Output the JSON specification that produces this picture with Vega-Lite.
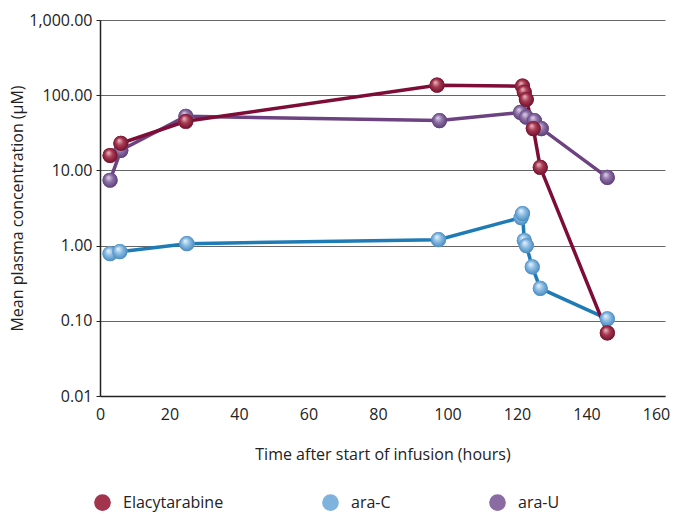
{
  "$schema": "https://vega.github.io/schema/vega-lite/v6.json",
  "width": 565,
  "height": 376,
  "autosize": "none",
  "padding": {"left": 100, "top": 20, "right": 20, "bottom": 119},
  "background": "white",
  "config": {
    "view": {"stroke": null},
    "font": "Open Sans",
    "axis": {"labelFont": "Open Sans", "titleFont": "Open Sans", "labelColor": "#222", "titleColor": "#222", "labelFontSize": 16, "titleFontSize": 16, "titleFontWeight": "normal"}
  },
  "data": {"values": [
    {"series": "Elacytarabine", "t": 2.9, "c": 15.8},
    {"series": "Elacytarabine", "t": 6.0, "c": 22.9},
    {"series": "Elacytarabine", "t": 24.7, "c": 45},
    {"series": "Elacytarabine", "t": 97.0, "c": 136},
    {"series": "Elacytarabine", "t": 121.6, "c": 132},
    {"series": "Elacytarabine", "t": 122.1, "c": 110},
    {"series": "Elacytarabine", "t": 122.7, "c": 88},
    {"series": "Elacytarabine", "t": 124.7, "c": 36},
    {"series": "Elacytarabine", "t": 126.7, "c": 11},
    {"series": "Elacytarabine", "t": 146.0, "c": 0.069},
    {"series": "ara-C", "t": 2.9, "c": 0.78},
    {"series": "ara-C", "t": 5.7, "c": 0.83},
    {"series": "ara-C", "t": 25.0, "c": 1.06},
    {"series": "ara-C", "t": 97.4, "c": 1.2},
    {"series": "ara-C", "t": 121.2, "c": 2.36},
    {"series": "ara-C", "t": 121.6, "c": 2.67},
    {"series": "ara-C", "t": 122.1, "c": 1.17},
    {"series": "ara-C", "t": 122.7, "c": 1.0},
    {"series": "ara-C", "t": 124.4, "c": 0.52},
    {"series": "ara-C", "t": 126.7, "c": 0.27},
    {"series": "ara-C", "t": 146.0, "c": 0.106},
    {"series": "ara-U", "t": 2.9, "c": 7.4},
    {"series": "ara-U", "t": 6.0, "c": 18.5},
    {"series": "ara-U", "t": 24.7, "c": 52.5},
    {"series": "ara-U", "t": 97.7, "c": 46},
    {"series": "ara-U", "t": 121.0, "c": 59},
    {"series": "ara-U", "t": 122.7, "c": 51},
    {"series": "ara-U", "t": 125.0, "c": 46},
    {"series": "ara-U", "t": 127.0, "c": 36},
    {"series": "ara-U", "t": 146.0, "c": 8.07}
  ]},
  "encoding": {
    "x": {"field": "t", "type": "quantitative", "scale": {"domain": [0, 162.6], "nice": false},
      "axis": {"values": [0, 20, 40, 60, 80, 100, 120, 140, 160], "grid": false, "ticks": false, "domainColor": "#222", "domainWidth": 1.5, "labelPadding": 10, "title": "Time after start of infusion (hours)", "titlePadding": 24, "labelFlush": false}},
    "y": {"field": "c", "type": "quantitative", "scale": {"type": "log", "domain": [0.01, 1000], "nice": false},
      "axis": {"values": [0.01, 0.1, 1, 10, 100, 1000], "format": ",.2f", "grid": true, "gridColor": "#666", "gridWidth": 1, "ticks": true, "tickSize": 4, "tickColor": "#222", "domainColor": "#222", "domainWidth": 1.5, "labelPadding": 4, "title": "Mean plasma concentration (µM)", "titlePadding": 3}}
  },
  "layer": [
    {
      "transform": [{"filter": "datum.series === 'ara-C'"}],
      "mark": {"type": "line", "strokeWidth": 3.5, "color": "#1f7bb6"},
      "encoding": {"order": {"field": "t", "type": "quantitative"}}
    },
    {
      "transform": [{"filter": "datum.series === 'ara-U'"}],
      "mark": {"type": "line", "strokeWidth": 3.5, "color": "#6c4281"},
      "encoding": {"order": {"field": "t", "type": "quantitative"}}
    },
    {
      "transform": [{"filter": "datum.series === 'Elacytarabine'"}],
      "mark": {"type": "line", "strokeWidth": 3.5, "color": "#7d0c37"},
      "encoding": {"order": {"field": "t", "type": "quantitative"}}
    },
    {
      "mark": {"type": "point", "filled": true, "size": 230, "opacity": 1, "strokeWidth": 0},
      "encoding": {
        "color": {"field": "series", "type": "nominal", "scale": {"domain": ["Elacytarabine", "ara-C", "ara-U"], "range": ["#a3344d", "#7fb2dd", "#8a6ca3"]},
          "legend": {"orient": "none", "legendX": -6, "legendY": 474, "direction": "horizontal", "columns": 3, "columnPadding": 98, "title": null, "symbolType": "circle", "symbolSize": 280, "symbolStrokeWidth": 0, "symbolOpacity": 1, "labelFontSize": 16, "labelColor": "#222", "labelFont": "Open Sans", "labelOffset": 12}}
      }
    },
    {
      "transform": [{"filter": "datum.series === 'ara-C'"}],
      "mark": {"type": "point", "filled": true, "size": 230, "opacity": 1, "strokeWidth": 0,
        "fill": {"gradient": "radial", "x1": 0.38, "y1": 0.3, "r1": 0, "x2": 0.5, "y2": 0.5, "r2": 0.55,
          "stops": [{"offset": 0, "color": "#eef5fc"}, {"offset": 0.45, "color": "#8cbde3"}, {"offset": 1, "color": "#3f84bd"}]}}
    },
    {
      "transform": [{"filter": "datum.series === 'ara-U'"}],
      "mark": {"type": "point", "filled": true, "size": 230, "opacity": 1, "strokeWidth": 0,
        "fill": {"gradient": "radial", "x1": 0.38, "y1": 0.3, "r1": 0, "x2": 0.5, "y2": 0.5, "r2": 0.55,
          "stops": [{"offset": 0, "color": "#e4daee"}, {"offset": 0.45, "color": "#8f72a8"}, {"offset": 1, "color": "#563872"}]}}
    },
    {
      "transform": [{"filter": "datum.series === 'Elacytarabine'"}],
      "mark": {"type": "point", "filled": true, "size": 230, "opacity": 1, "strokeWidth": 0,
        "fill": {"gradient": "radial", "x1": 0.38, "y1": 0.3, "r1": 0, "x2": 0.5, "y2": 0.5, "r2": 0.55,
          "stops": [{"offset": 0, "color": "#efc0c9"}, {"offset": 0.45, "color": "#a73a52"}, {"offset": 1, "color": "#6a0a28"}]}}
    }
  ]
}
